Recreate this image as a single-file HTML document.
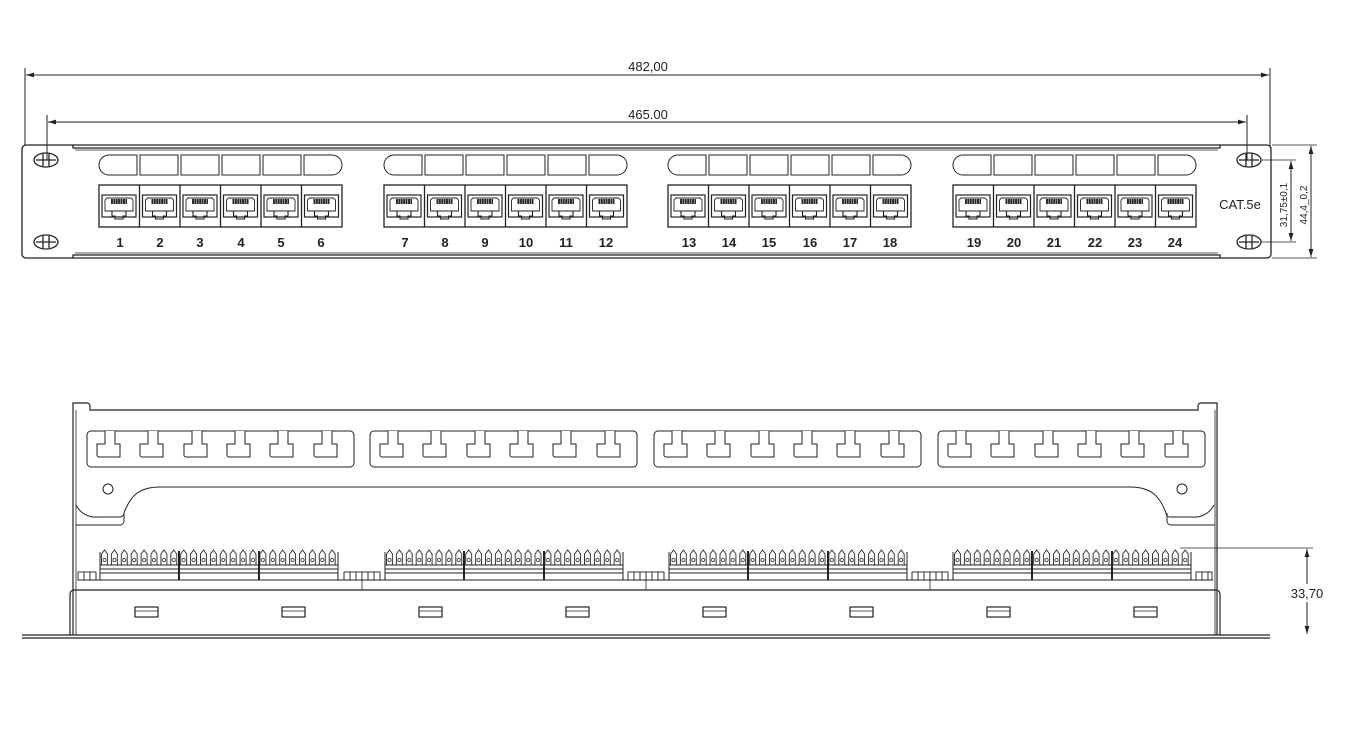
<!DOCTYPE html>
<html><head><meta charset="utf-8"><style>
html,body{margin:0;padding:0;background:#fff}
svg{display:block}
text{font-family:"Liberation Sans",sans-serif;fill:#222;stroke:none}
</style></head><body>
<svg width="1350" height="752" viewBox="0 0 1350 752" xmlns="http://www.w3.org/2000/svg" fill="none" stroke="#222" stroke-width="1">
<defs>
<marker id="ar" viewBox="0 0 10 10" refX="10" refY="5" markerWidth="8" markerHeight="8" orient="auto-start-reverse"><path d="M0,2 L10,5 L0,8 z" fill="#222" stroke="none"/></marker>
<pattern id="pins" x="0" y="0" width="2.4" height="5" patternUnits="userSpaceOnUse"><rect x="0" y="0" width="1.4" height="5" fill="#333"/></pattern>
<g id="jack">
<rect x="3" y="6" width="34" height="22" stroke-width="1.2"/>
<path d="M6,22 V11 l2,-2 h24 l2,2 V22 z" stroke-width="0.9"/>
<rect x="12" y="10" width="16" height="5" fill="url(#pins)" stroke="none"/>
<path d="M13,22 v5 h3 v3 h8 v-3 h3 v-5" stroke-width="1.1"/>
</g>
<g id="port6">
<rect x="0" y="0" width="243" height="42" stroke-width="1.3"/>
<path d="M40.5,0v42M81,0v42M121.5,0v42M162,0v42M202.5,0v42" stroke-width="1.3"/>
<use href="#jack" x="0" y="4"/><use href="#jack" x="40.5" y="4"/><use href="#jack" x="81" y="4"/>
<use href="#jack" x="121.5" y="4"/><use href="#jack" x="162" y="4"/><use href="#jack" x="202.5" y="4"/>
</g>
<g id="lab6" stroke-width="1">
<path d="M10,0 h28 v20 h-28 a10,10 0 0 1 0,-20z"/>
<rect x="41" y="0" width="38" height="20"/>
<rect x="82" y="0" width="38" height="20"/>
<rect x="123" y="0" width="38" height="20"/>
<rect x="164" y="0" width="38" height="20"/>
<path d="M205,0 h28 a10,10 0 0 1 0,20 h-28z"/>
</g>
<g id="notch"><path d="M8,0 v13 h-8 v11 a2,2 0 0 0 2,2 h21 v-13 h-5 v-13" fill="#fff"/></g>
<g id="slots">
<rect x="0" y="0" width="267" height="36" rx="4"/>
<use href="#notch" x="10" y="0"/><use href="#notch" x="53" y="0"/><use href="#notch" x="97" y="0"/>
<use href="#notch" x="140" y="0"/><use href="#notch" x="183" y="0"/><use href="#notch" x="227" y="0"/>
</g>
<pattern id="teeth" x="0" y="0" width="9.9" height="20" patternUnits="userSpaceOnUse">
<path d="M1.5,18 V6 l3,-4 l3,4 V18" fill="none" stroke="#222" stroke-width="0.9"/>
<circle cx="4.5" cy="12" r="1.6" fill="none" stroke="#222" stroke-width="0.7"/>
</pattern>
<g id="block">
<rect x="0" y="0" width="238" height="17" fill="url(#teeth)" stroke="none"/>
<path d="M0,17 h238 M0,21 h238 M0,25 h238 M0,32 h238"/>
<path d="M0,4 v28 M238,4 v28"/>
<path d="M79,3 v29 M159,3 v29" stroke-width="2"/>
</g>
</defs>

<path d="M25,68 v78 M1270,68 v78"/>
<line x1="26" y1="75" x2="1269" y2="75" marker-start="url(#ar)" marker-end="url(#ar)"/>
<text x="648" y="71" font-size="13" text-anchor="middle">482,00</text>
<path d="M47,115 v45 M1247,115 v45"/>
<line x1="48" y1="122" x2="1246" y2="122" marker-start="url(#ar)" marker-end="url(#ar)"/>
<text x="648" y="119" font-size="13" text-anchor="middle">465.00</text>

<rect x="22" y="145" width="1249" height="113" rx="4" stroke-width="1.3"/>
<path d="M73,145 v3 h1147 v-3 M73,258 v-3 h1147 v3" stroke-width="1.3"/>
<path d="M75,150 h1143 M75,253 h1143" stroke-width="0.7"/>
<g stroke-width="1.3">
<ellipse cx="46" cy="160" rx="12" ry="7"/><path d="M36,160h20M43,154v12M49,154v12"/>
<ellipse cx="46" cy="242" rx="12" ry="7"/><path d="M36,242h20M43,236v12M49,236v12"/>
<ellipse cx="1249" cy="160" rx="12" ry="7"/><path d="M1239,160h20M1246,154v12M1252,154v12"/>
<ellipse cx="1249" cy="242" rx="12" ry="7"/><path d="M1239,242h20M1246,236v12M1252,236v12"/>
</g>
<use href="#lab6" x="99" y="155"/><use href="#lab6" x="384" y="155"/><use href="#lab6" x="668" y="155"/><use href="#lab6" x="953" y="155"/>
<use href="#port6" x="99" y="185"/><use href="#port6" x="384" y="185"/><use href="#port6" x="668" y="185"/><use href="#port6" x="953" y="185"/>
<g font-size="13" font-weight="bold" text-anchor="middle">
<text x="120" y="247">1</text><text x="160" y="247">2</text><text x="200" y="247">3</text><text x="241" y="247">4</text><text x="281" y="247">5</text><text x="321" y="247">6</text>
<text x="405" y="247">7</text><text x="445" y="247">8</text><text x="485" y="247">9</text><text x="526" y="247">10</text><text x="566" y="247">11</text><text x="606" y="247">12</text>
<text x="689" y="247">13</text><text x="729" y="247">14</text><text x="769" y="247">15</text><text x="810" y="247">16</text><text x="850" y="247">17</text><text x="890" y="247">18</text>
<text x="974" y="247">19</text><text x="1014" y="247">20</text><text x="1054" y="247">21</text><text x="1095" y="247">22</text><text x="1135" y="247">23</text><text x="1175" y="247">24</text>
</g>
<text x="1240" y="209" font-size="13" text-anchor="middle">CAT.5e</text>
<path d="M1261,160 h35 M1261,242 h35 M1272,145 h45 M1272,258 h45" stroke-width="0.8"/>
<line x1="1291" y1="161" x2="1291" y2="241" marker-start="url(#ar)" marker-end="url(#ar)"/>
<line x1="1311" y1="146" x2="1311" y2="257" marker-start="url(#ar)" marker-end="url(#ar)"/>
<text transform="translate(1287,205) rotate(-90)" font-size="10" text-anchor="middle">31,75±0,1</text>
<text transform="translate(1307,205) rotate(-90)" font-size="10" text-anchor="middle">44,4_0,2</text>

<path d="M73,635 V403 h14 a3,3 0 0 1 3,3 v4 H1198 v-4 a3,3 0 0 1 3,-3 h16 V635" stroke-width="1.2"/>
<path d="M76,410 V635 M1215,410 V635" stroke-width="0.8"/>
<path d="M76,505 a22,22 0 0 0 22,12 h22 a4,4 0 0 0 4,-4 v0 C130,497 138,487 160,487 H1130 C1152,487 1160,497 1166,513 a4,4 0 0 0 4,4 h22 a22,22 0 0 0 22,-12" stroke-width="1"/>
<path d="M76,525 h44 a4,4 0 0 0 4,-4 v-8 M1215,525 h-44 a4,4 0 0 1 -4,-4 v-8" stroke-width="1"/>
<circle cx="108" cy="489" r="5"/><circle cx="1182" cy="489" r="5"/>
<use href="#slots" x="87" y="431"/><use href="#slots" x="370" y="431"/><use href="#slots" x="654" y="431"/><use href="#slots" x="938" y="431"/>
<use href="#block" x="100" y="548"/><use href="#block" x="385" y="548"/><use href="#block" x="669" y="548"/><use href="#block" x="953" y="548"/>
<path d="M78,580 H1213" stroke-width="1"/>
<g stroke-width="0.9">
<rect x="78" y="572" width="18" height="8"/><rect x="344" y="572" width="36" height="8"/><rect x="628" y="572" width="36" height="8"/><rect x="912" y="572" width="36" height="8"/><rect x="1196" y="572" width="16" height="8"/>
<path d="M84,572v8M90,572v8M350,572v8M356,572v8M362,572v8M368,572v8M374,572v8M634,572v8M640,572v8M646,572v8M652,572v8M658,572v8M918,572v8M924,572v8M930,572v8M936,572v8M942,572v8M1202,572v8M1208,572v8"/>
</g>
<path d="M70,635 V594 a4,4 0 0 1 4,-4 H1216 a4,4 0 0 1 4,4 V635" stroke-width="1.2"/>
<path d="M362,580 v10 M646,580 v10 M930,580 v10" stroke-width="0.8"/>
<path d="M22,635 H1270 M22,638 H1270" stroke-width="1.3"/>
<g stroke-width="1.2">
<rect x="135" y="607" width="23" height="10"/><rect x="282" y="607" width="23" height="10"/>
<rect x="419" y="607" width="23" height="10"/><rect x="566" y="607" width="23" height="10"/>
<rect x="703" y="607" width="23" height="10"/><rect x="850" y="607" width="23" height="10"/>
<rect x="987" y="607" width="23" height="10"/><rect x="1134" y="607" width="23" height="10"/>
</g>
<path d="M135,611h23M282,611h23M419,611h23M566,611h23M703,611h23M850,611h23M987,611h23M1134,611h23" stroke-width="0.8"/>
<path d="M1180,548 H1313" stroke-width="0.8"/>
<line x1="1307" y1="549" x2="1307" y2="634" marker-start="url(#ar)" marker-end="url(#ar)"/>
<rect x="1286" y="584" width="44" height="18" fill="#fff" stroke="none"/>
<text x="1307" y="598" font-size="13" text-anchor="middle">33,70</text>
</svg>
</body></html>
